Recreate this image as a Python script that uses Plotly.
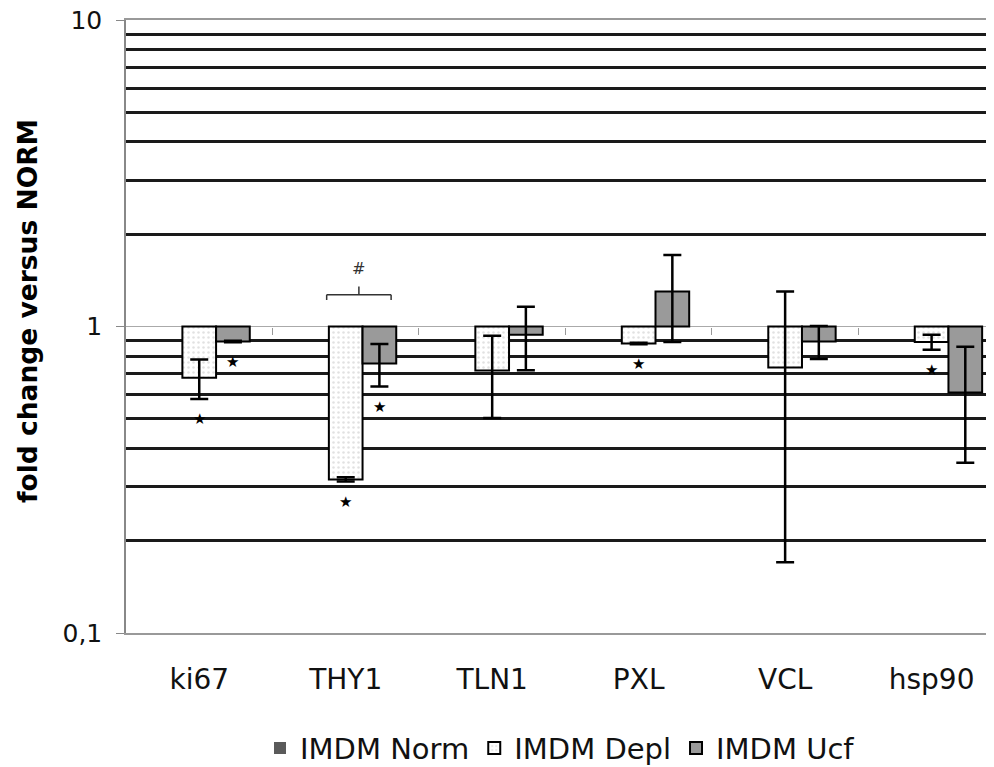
import math
import plotly.graph_objects as go

categories = ["ki67", "THY1", "TLN1", "PXL", "VCL", "hsp90"]
norm_vals = [1, 1, 1, 1, 1, 1]
depl_vals = [0.68, 0.317, 0.718, 0.88, 0.735, 0.89]
depl_err = [0.10, 0.005, 0.215, 0.005, 0.565, 0.05]
ucf_vals = [0.893, 0.757, 0.94, 1.30, 0.893, 0.609]
ucf_err = [0.005, 0.12, 0.22, 0.41, 0.11, 0.25]
# significance stars: (series, category)
stars = [("Depl", "ki67"), ("Ucf", "ki67"), ("Depl", "THY1"), ("Ucf", "THY1"),
         ("Depl", "PXL"), ("Depl", "hsp90")]
hash_category = "THY1"
ytick_vals = [0.1, 1, 10]
ytick_text = ["0,1", "1", "10"]

FONT = "DejaVu Sans"
bargap = 0.31
bw = (1 - bargap) / 3
xr = [-0.5, 5.426]

fig = go.Figure()
fig.add_trace(go.Bar(
    name="IMDM Norm", x=categories, base=[1] * len(categories),
    y=[v - 1 for v in norm_vals],
    marker=dict(color="#5a5a5a", line=dict(width=0)),
))
fig.add_trace(go.Bar(
    name="IMDM Depl", x=categories, base=[1] * len(categories),
    y=[v - 1 for v in depl_vals],
    marker=dict(color="white", line=dict(color="black", width=2),
                pattern=dict(shape=".", fgcolor="#c4c4c4", bgcolor="white",
                             size=5, solidity=0.2)),
    error_y=dict(type="data", array=depl_err, color="black", thickness=2.5, width=9),
))
fig.add_trace(go.Bar(
    name="IMDM Ucf", x=categories, base=[1] * len(categories),
    y=[v - 1 for v in ucf_vals],
    marker=dict(color="#9a9a9a", line=dict(color="black", width=2)),
    error_y=dict(type="data", array=ucf_err, color="black", thickness=2.5, width=9),
))
# dummy trace for the crossing axis at y=1
fig.add_trace(go.Scatter(x=[None], y=[None], xaxis="x2", showlegend=False,
                         hoverinfo="skip"))

series = {"Depl": (depl_vals, depl_err, 0.0), "Ucf": (ucf_vals, ucf_err, bw)}
for s, c in stars:
    vals, errs, off = series[s]
    i = categories.index(c)
    low = (vals[i] - errs[i]) * 0.86
    fig.add_annotation(x=i + off, y=math.log10(low), text="★", showarrow=False,
                       font=dict(size=15, color="black", family=FONT),
                       xref="x", yref="y")

hi = categories.index(hash_category)
bx0, bx1 = hi - 0.13, hi + 0.31
bxm = (bx0 + bx1) / 2
ybar, yend, ytop = 1.27, 1.22, 1.35
for (x0, y0, x1, y1) in [(bx0, ybar, bx1, ybar), (bx0, ybar, bx0, yend),
                         (bx1, ybar, bx1, yend), (bxm, ybar, bxm, ytop)]:
    fig.add_shape(type="line", x0=x0, y0=y0, x1=x1, y1=y1, xref="x", yref="y",
                  line=dict(color="#333", width=1.5))
fig.add_annotation(x=bxm, y=math.log10(1.55), text="#", showarrow=False,
                   font=dict(size=16, color="#333", family=FONT), xref="x", yref="y")

# page has an 8px body margin: figure is drawn 8px right/down
L, T, B = 118, 12, 134
PW, PH = 868, 613
fig.add_annotation(x=(19 - L) / PW, y=(T + PH - 303) / PH, xref="paper", yref="paper",
                   text="<b>fold change versus NORM</b>", textangle=-90, showarrow=False,
                   font=dict(size=26.5, color="black", family=FONT),
                   xanchor="center", yanchor="middle")

minor_vals = [m * 10 ** e for e in (-1, 0) for m in range(2, 10)]

fig.update_layout(
    width=L + PW, height=T + PH + B,
    margin=dict(l=L, r=0, t=T, b=B, autoexpand=False),
    paper_bgcolor="white", plot_bgcolor="white",
    barmode="group", bargap=bargap, bargroupgap=0,
    font=dict(family=FONT, color="#111"),
    showlegend=True,
    legend=dict(orientation="h", x=0.5, xanchor="center", y=-0.188, yanchor="middle",
                font=dict(size=29, family=FONT, color="#111"), itemwidth=30,
                traceorder="normal"),
    xaxis=dict(type="category", categoryorder="array", categoryarray=categories,
               range=xr, showline=True, mirror=True, linecolor="#999", linewidth=1.5,
               ticks="outside", ticklen=21, tickcolor="rgba(0,0,0,0)",
               showgrid=False, zeroline=False, automargin=False,
               tickfont=dict(size=28, family=FONT, color="#111")),
    xaxis2=dict(overlaying="x", anchor="free", position=0.5, type="linear",
                range=xr, tickvals=[i + 0.5 for i in range(len(categories) - 1)],
                ticks="outside", ticklen=7, tickcolor="#999", tickwidth=1,
                showticklabels=False, showgrid=False, showline=False, zeroline=False,
                automargin=False),
    yaxis=dict(type="log", range=[-1, 1], tickvals=ytick_vals, ticktext=ytick_text,
               showgrid=True, gridcolor="#aaa", gridwidth=1,
               minor=dict(tickvals=minor_vals, showgrid=True, gridcolor="#1a1a1a",
                          gridwidth=2.5, ticks=""),
               showline=True, linecolor="#888", linewidth=1.5,
               ticks="outside", ticklen=8, tickcolor="#888",
               ticklabelstandoff=9, ticklabeloverflow="allow",
               zeroline=False, automargin=False,
               tickfont=dict(size=25, family=FONT, color="#111")),
)

fig.write_html("out.html")
